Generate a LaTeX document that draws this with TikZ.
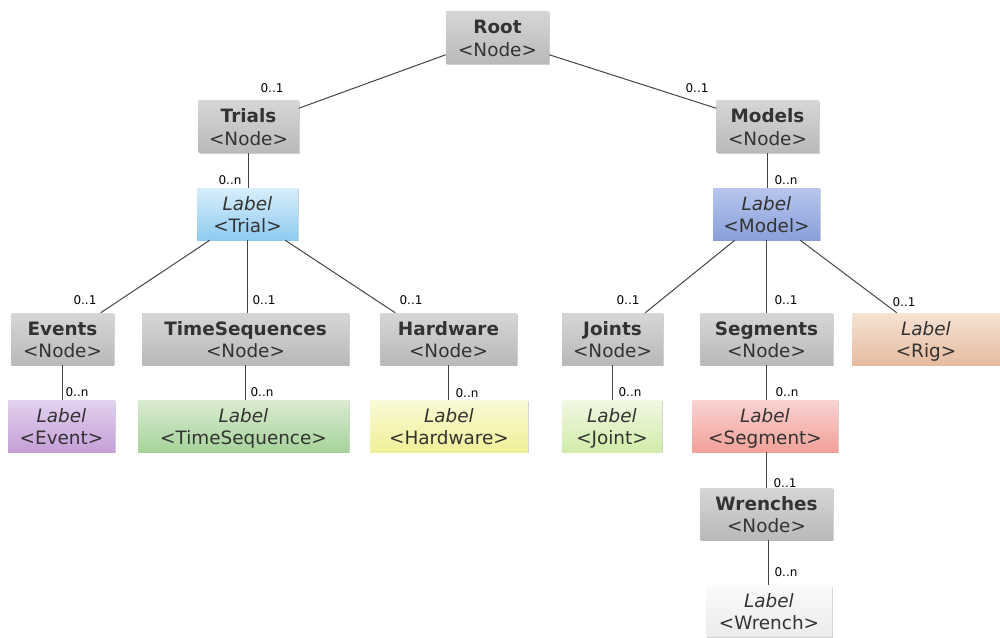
\documentclass[tikz,border=0pt]{standalone}
\usepackage{fontspec}
\setmainfont{DejaVu Sans}
\usetikzlibrary{calc,shadows}
\definecolor{txt}{HTML}{333333}
\definecolor{ln}{HTML}{444444}
\definecolor{gtop}{HTML}{D6D6D6}
\definecolor{gbot}{HTML}{B9B9B9}
\definecolor{trT}{HTML}{D8EEFB}\definecolor{trB}{HTML}{8FCBF0}
\definecolor{moT}{HTML}{B8C6EE}\definecolor{moB}{HTML}{8A9FD9}
\definecolor{riT}{HTML}{F6E2D4}\definecolor{riB}{HTML}{E6BBA0}
\definecolor{evT}{HTML}{E2D2EE}\definecolor{evB}{HTML}{C49FD7}
\definecolor{tsT}{HTML}{DAEBD2}\definecolor{tsB}{HTML}{A6D39A}
\definecolor{hwT}{HTML}{FAFAD6}\definecolor{hwB}{HTML}{F0EF98}
\definecolor{joT}{HTML}{F2F8E4}\definecolor{joB}{HTML}{D0ECA8}
\definecolor{seT}{HTML}{FAD4D2}\definecolor{seB}{HTML}{F2A099}
\definecolor{wrT}{HTML}{FAFAFA}\definecolor{wrB}{HTML}{ECECEC}
\begin{document}
\begin{tikzpicture}[x=0.75pt,y=-0.75pt,
  box/.style={draw=none, minimum height=52*0.75pt, inner sep=0pt, align=center,
    text height=28.2pt, text depth=0pt,
    font=\fontsize{13.8}{17}\selectfont, text=txt,
    drop shadow={shadow xshift=1pt,shadow yshift=-1pt,opacity=0.18,fill=black}},
  gbox/.style={box, top color=gtop, bottom color=gbot},
  lbox/.style 2 args={box, top color=#1, bottom color=#2},
  mult/.style={font=\fontsize{9}{10}\selectfont, text=black, inner sep=0pt},
  conn/.style={draw=ln, line width=0.75pt}]
\useasboundingbox (0,0) rectangle (1000,637);
% boxes
\node[gbox, minimum width=103*0.75pt] (root) at (497.5,37.5) {\textbf{Root}\\<Node>};
\node[gbox, minimum width=100*0.75pt] (trials) at (248.5,126.5) {\textbf{Trials}\\<Node>};
\node[gbox, minimum width=102*0.75pt] (models) at (767.5,126.5) {\textbf{Models}\\<Node>};
\node[lbox={trT}{trB}, minimum width=101*0.75pt] (ltrial) at (247.5,214) {\textit{Label}\\<Trial>};
\node[lbox={moT}{moB}, minimum width=107*0.75pt] (lmodel) at (766.5,214) {\textit{Label}\\<Model>};
\node[gbox, minimum width=102*0.75pt] (events) at (62.5,339) {\textbf{Events}\\<Node>};
\node[gbox, minimum width=207*0.75pt] (timeseq) at (245.5,339) {\textbf{TimeSequences}\\<Node>};
\node[gbox, minimum width=136*0.75pt] (hardware) at (448.5,339) {\textbf{Hardware}\\<Node>};
\node[gbox, minimum width=101*0.75pt] (joints) at (612.5,339) {\textbf{Joints}\\<Node>};
\node[gbox, minimum width=132*0.75pt] (segments) at (766.5,339) {\textbf{Segments}\\<Node>};
\node[lbox={riT}{riB}, minimum width=148*0.75pt] (lrig) at (926,339) {\textit{Label}\\<Rig>};
\node[lbox={evT}{evB}, minimum width=107*0.75pt] (levent) at (61.5,426) {\textit{Label}\\<Event>};
\node[lbox={tsT}{tsB}, minimum width=211*0.75pt] (ltimeseq) at (243.5,426) {\textit{Label}\\<TimeSequence>};
\node[lbox={hwT}{hwB}, minimum width=158*0.75pt] (lhardware) at (449,426) {\textit{Label}\\<Hardware>};
\node[lbox={joT}{joB}, minimum width=100*0.75pt] (ljoint) at (612,426) {\textit{Label}\\<Joint>};
\node[lbox={seT}{seB}, minimum width=146*0.75pt] (lsegment) at (765,426) {\textit{Label}\\<Segment>};
\node[gbox, minimum width=132*0.75pt] (wrenches) at (766.5,514) {\textbf{Wrenches}\\<Node>};
\node[lbox={wrT}{wrB}, minimum width=126*0.75pt, minimum height=51*0.75pt] (lwrench) at (769,611) {\textit{Label}\\<Wrench>};
% connectors
\draw[conn] ($(root.south west)+(0,-9)$) -- ($(trials.north east)+(0,8)$);
\draw[conn] ($(root.south east)+(0,-9)$) -- ($(models.north west)+(0,8)$);
\draw[conn] (trials.south) -- (trials.south |- ltrial.north);
\draw[conn] (models.south) -- (models.south |- lmodel.north);
\draw[conn] ($(ltrial.south west)+(13,0)$) -- ($(events.north east)+(-13,0)$);
\draw[conn] (ltrial.south) -- (ltrial.south |- timeseq.north);
\draw[conn] ($(ltrial.south east)+(-13,0)$) -- ($(hardware.north west)+(15,0)$);
\draw[conn] ($(lmodel.south west)+(22,0)$) -- ($(joints.north east)+(-18,0)$);
\draw[conn] (lmodel.south) -- (lmodel.south |- segments.north);
\draw[conn] ($(lmodel.south east)+(-20,0)$) -- ($(lrig.north west)+(45,0)$);
\draw[conn] (events.south) -- (events.south |- levent.north);
\draw[conn] (timeseq.south) -- (timeseq.south |- ltimeseq.north);
\draw[conn] (hardware.south) -- (hardware.south |- lhardware.north);
\draw[conn] (joints.south) -- (joints.south |- ljoint.north);
\draw[conn] (segments.south) -- (segments.south |- lsegment.north);
\draw[conn] (wrenches.north |- lsegment.south) -- (wrenches.north);
\draw[conn] ($(wrenches.south)+(2,0)$) -- ($(wrenches.south |- lwrench.north)+(2,0)$);
% multiplicities
\node[mult] (m1) at (272,88) {0..1};
\node[mult] (m2) at (697,88) {0..1};
\node[mult] (m3) at (230,180) {0..n};
\node[mult] (m4) at (786,180) {0..n};
\node[mult] (m5) at (85,300) {0..1};
\node[mult] (m6) at (264,300) {0..1};
\node[mult] (m7) at (411,300) {0..1};
\node[mult] (m8) at (628,300) {0..1};
\node[mult] (m9) at (786,300) {0..1};
\node[mult] (m10) at (904,302) {0..1};
\node[mult] (m11) at (77,392) {0..n};
\node[mult] (m12) at (262,392) {0..n};
\node[mult] (m13) at (467,393) {0..n};
\node[mult] (m14) at (630,392) {0..n};
\node[mult] (m15) at (787,392) {0..n};
\node[mult] (m16) at (785,483) {0..1};
\node[mult] (m17) at (786,572) {0..n};
\end{tikzpicture}
\end{document}
